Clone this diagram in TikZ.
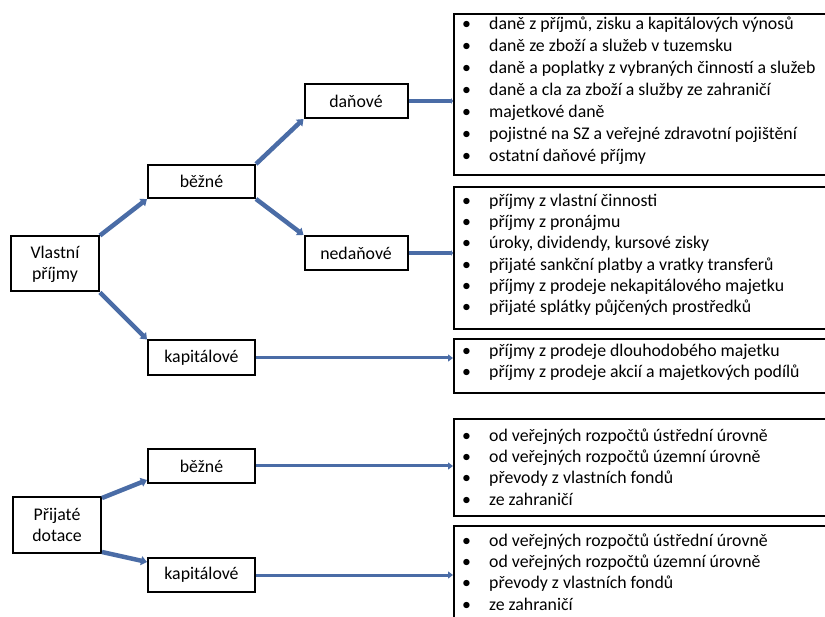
\documentclass[tikz,border=0pt]{standalone}
\usepackage{fontspec}
\setmainfont{Carlito}
\usetikzlibrary{arrows.meta}
\usetikzlibrary{positioning}
\usetikzlibrary{calc}
\definecolor{arrowblue}{RGB}{74,108,166}
\newcommand{\li}[1]{\makebox[27pt][l]{\textbullet}#1\strut}

\begin{document}
\begin{tikzpicture}[x=1pt,y=-1pt,font=\fontsize{17.8}{21.3}\selectfont,
  box/.style={draw,line width=2pt,inner sep=0pt,align=center},
  listbox/.style={draw,line width=2pt,anchor=north west,minimum width=420pt,inner sep=0pt},
  listtext/.style={anchor=north west,align=left,inner sep=0pt},
  fat/.style={arrowblue,line width=4.5pt,-{Triangle[length=6pt,width=9pt]}},
  stub/.style={arrowblue,line width=4.5pt,-{Triangle[length=2pt,width=6pt]}},
  thin/.style={arrowblue,line width=3pt,-{Triangle[length=5pt,width=7pt]}}]
\clip (0,0) rectangle (825,617);

% Vlastni prijmy
\node[box,minimum width=88pt,minimum height=55pt] (vlastni) at (55,264) {Vlastní\\příjmy};
\node[box,minimum width=107pt,minimum height=33pt] (bezne1) at (201.5,181.5) {běžné};
\node[box,minimum width=103pt,minimum height=34pt] (danove) at (356,101) {daňové};
\node[box,minimum width=103pt,minimum height=34pt] (nedanove) at (356,253) {nedaňové};
\node[box,minimum width=107pt,minimum height=35pt] (kapital1) at (201.5,358) {kapitálové};

% Prijate dotace
\node[box,minimum width=88pt,minimum height=56pt] (prijate) at (57,525) {Přijaté\\dotace};
\node[box,minimum width=107pt,minimum height=34pt] (bezne2) at (201.5,466) {běžné};
\node[box,minimum width=107pt,minimum height=34pt] (kapital2) at (201.5,575) {kapitálové};

% lists
\node[listbox,minimum height=161pt] (list1) at (453,13) {};
\node[listtext,font=\fontsize{17.8}{22}\selectfont] (text1) at ($(list1.north west)+(9,1)$) {%
\li{daně z příjmů, zisku a kapitálových výnosů}\\
\li{daně ze zboží a služeb v tuzemsku}\\
\li{daně a poplatky z vybraných činností a služeb}\\
\li{daně a cla za zboží a služby ze zahraničí}\\
\li{majetkové daně}\\
\li{pojistné na SZ a veřejné zdravotní pojištění}\\
\li{ostatní daňové příjmy}};

\node[listbox,minimum height=142pt] (list2) at (453,186) {};
\node[listtext] (text2) at ($(list2.north west)+(9,5)$) {%
\li{příjmy z vlastní činnosti}\\
\li{příjmy z pronájmu}\\
\li{úroky, dividendy, kursové zisky}\\
\li{přijaté sankční platby a vratky transferů}\\
\li{příjmy z prodeje nekapitálového majetku}\\
\li{přijaté splátky půjčených prostředků}};

\node[listbox,minimum height=54pt] (list3) at (453,338) {};
\node[listtext] (text3) at ($(list3.north west)+(9,3)$) {%
\li{příjmy z prodeje dlouhodobého majetku}\\
\li{příjmy z prodeje akcií a majetkových podílů}};

\node[listbox,minimum height=97pt] (list4) at (453,418) {};
\node[listtext] (text4) at ($(list4.north west)+(9,8)$) {%
\li{od veřejných rozpočtů ústřední úrovně}\\
\li{od veřejných rozpočtů územní úrovně}\\
\li{převody z vlastních fondů}\\
\li{ze zahraničí}};

\node[listbox,minimum height=120pt] (list5) at (453,525) {};
\node[listtext] (text5) at ($(list5.north west)+(9,6)$) {%
\li{od veřejných rozpočtů ústřední úrovně}\\
\li{od veřejných rozpočtů územní úrovně}\\
\li{převody z vlastních fondů}\\
\li{ze zahraničí}};

% arrows
\draw[fat] (vlastni.north east) -- (bezne1.south west);
\draw[fat] (vlastni.south east) -- (kapital1.north west);
\draw[fat] (bezne1.north east) -- (danove.south west);
\draw[fat] (bezne1.south east) -- (nedanove.north west);
\draw[stub] (danove.east) -- (danove.east -| list1.west);
\draw[stub] (nedanove.east) -- (nedanove.east -| list2.west);
\draw[thin] (kapital1.east) -- (kapital1.east -| list3.west);

\draw[fat] ([yshift=-2pt]prijate.north east) -- ([yshift=4pt]bezne2.south west);
\draw[fat] ([yshift=2pt]prijate.south east) -- ([yshift=-5pt]kapital2.north west);
\draw[thin] (bezne2.east) -- (bezne2.east -| list4.west);
\draw[thin] (kapital2.east) -- (kapital2.east -| list5.west);
\end{tikzpicture}
\end{document}
